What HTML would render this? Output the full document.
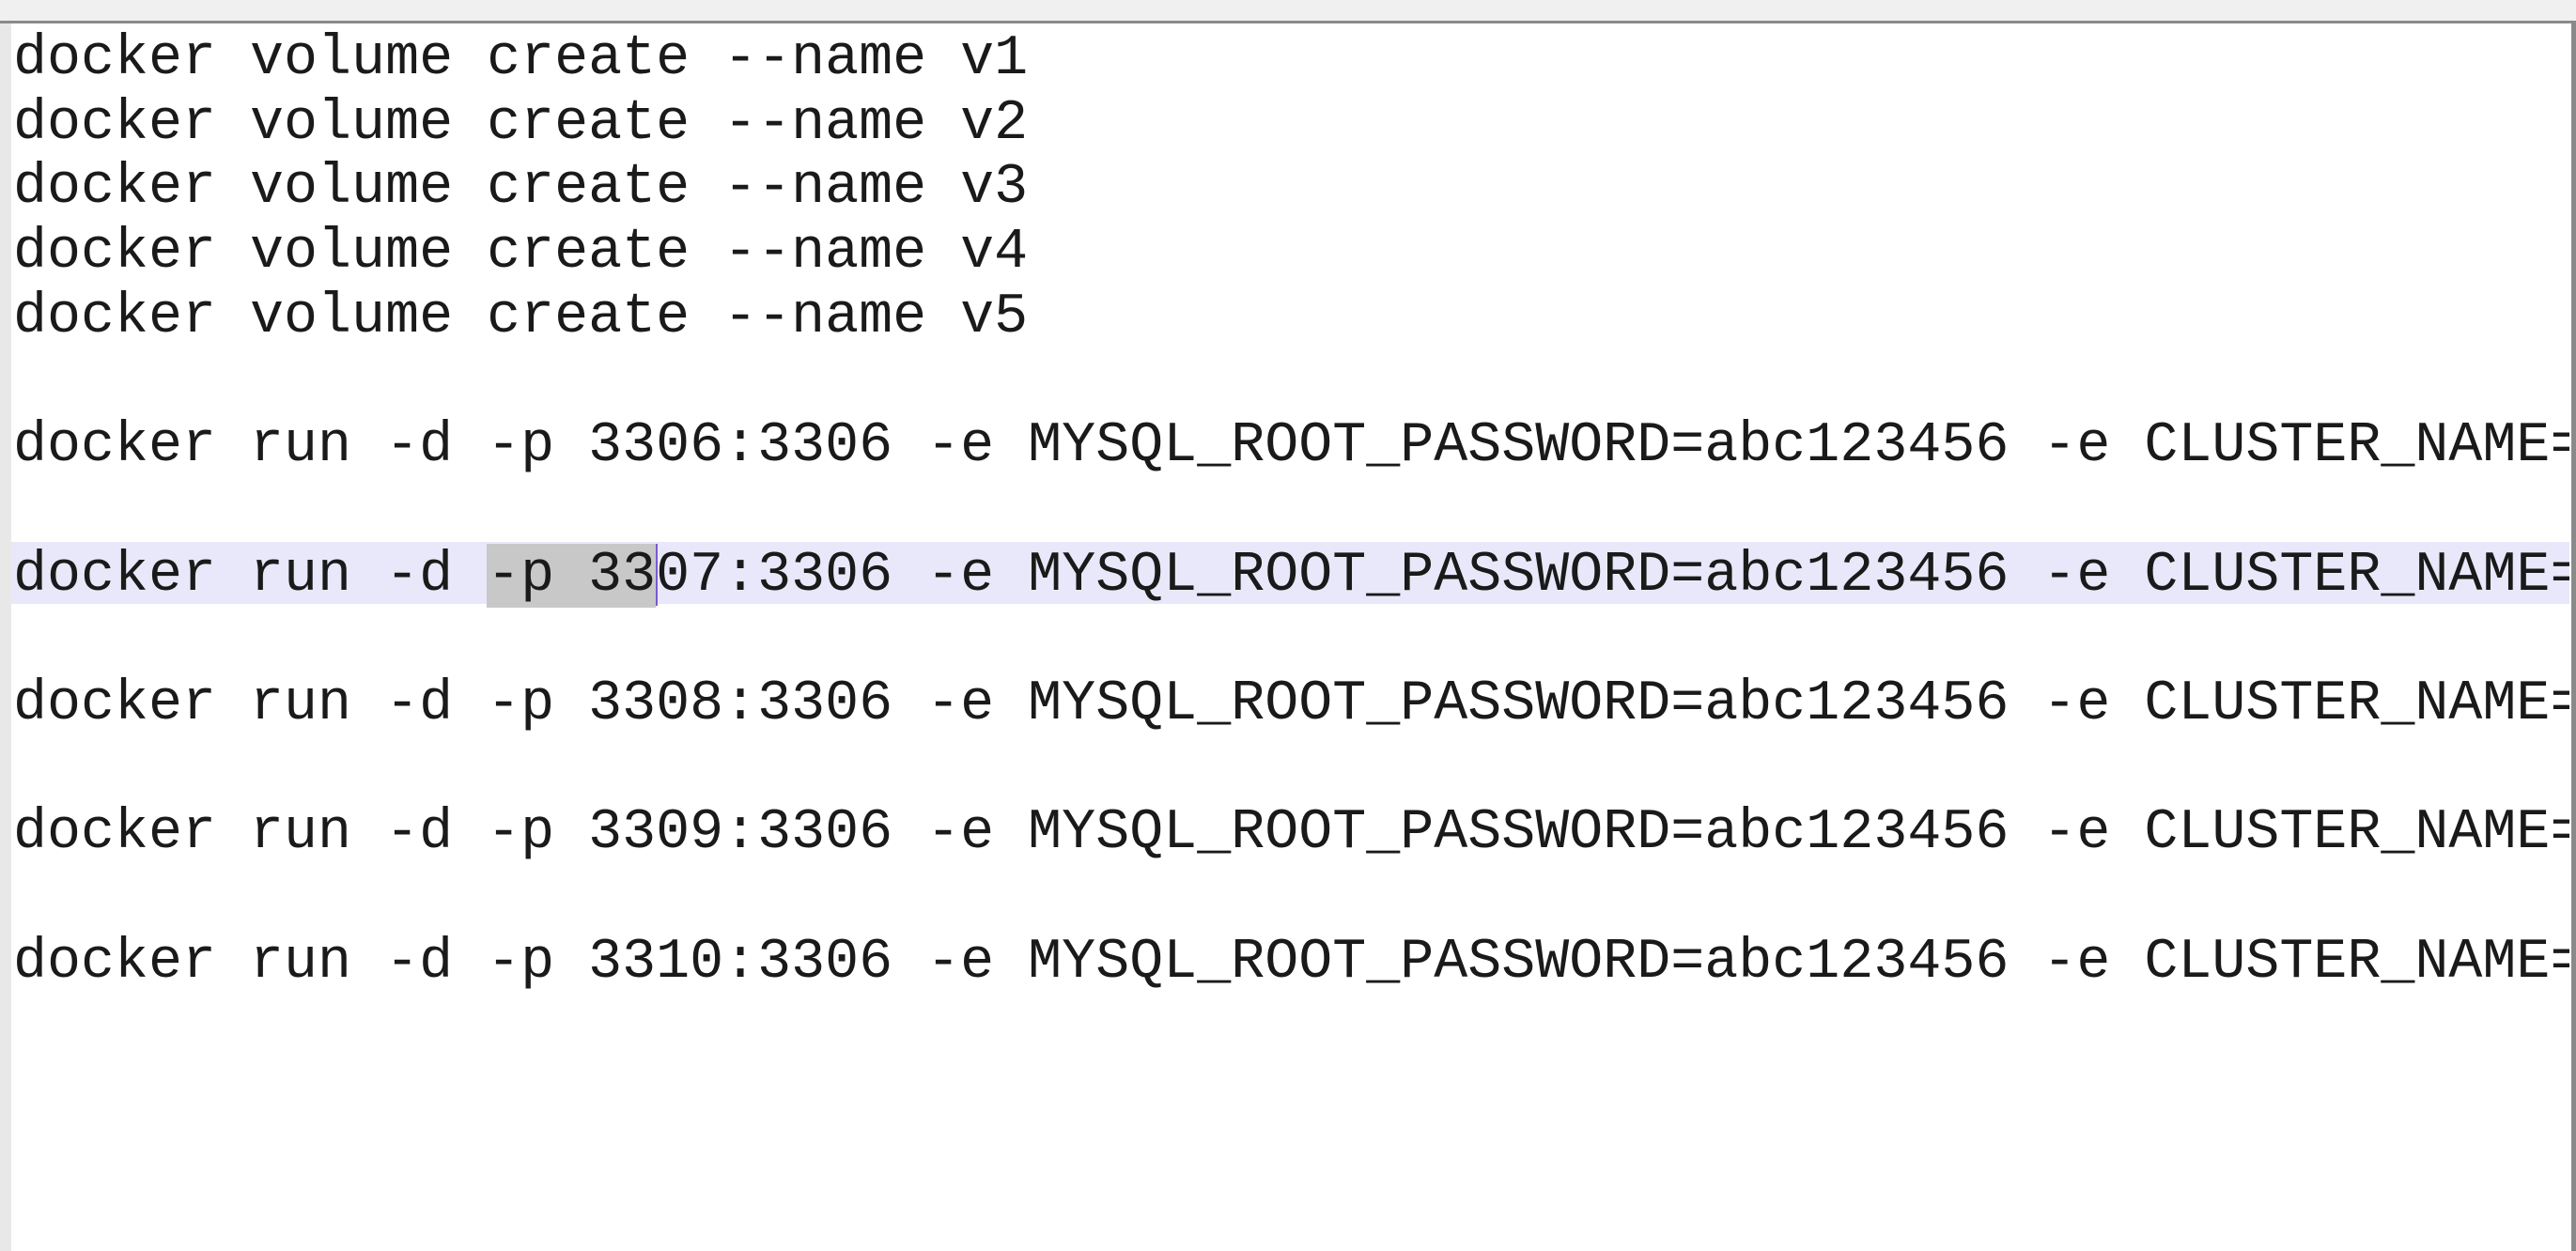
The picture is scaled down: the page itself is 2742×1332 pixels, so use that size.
<!DOCTYPE html>
<html><head><meta charset="utf-8"><style>
html,body{margin:0;padding:0;width:2742px;height:1332px;overflow:hidden;background:#fff;}
#top{position:absolute;left:0;top:0;width:2742px;height:22px;background:#f0f0f0;}
#topb{position:absolute;left:0;top:22px;width:2738px;height:3px;background:#8a8a8a;}
#right{position:absolute;left:2737px;top:22px;width:5px;height:1310px;background:#8a8a8a;}
#left{position:absolute;left:0;top:25px;width:12px;height:1307px;background:#e8e8e8;}
#ed{position:absolute;left:12px;top:29px;width:2723px;height:1303px;overflow:hidden;}
.l{position:relative;height:68.7px;line-height:68.7px;font-family:"Courier New","Nimbus Mono PS","FreeMono","Liberation Mono",monospace;font-size:60px;color:#1a1a1a;white-space:pre;padding-left:2px;}
.hl{background:#e8e8fa;}
.sel{background:#c8c8c8;}
.cur{display:inline-block;width:2px;height:66px;background:#7a5ad0;vertical-align:middle;margin-right:-2px;}
</style></head><body>
<div id="top"></div><div id="topb"></div><div id="right"></div><div id="left"></div>
<div id="ed">
<div class="l">docker volume create --name v1</div>
<div class="l">docker volume create --name v2</div>
<div class="l">docker volume create --name v3</div>
<div class="l">docker volume create --name v4</div>
<div class="l">docker volume create --name v5</div>
<div class="l"> </div>
<div class="l">docker run -d -p 3306:3306 -e MYSQL_ROOT_PASSWORD=abc123456 -e CLUSTER_NAME=PXC -e XTRABACKUP_PASSWORD=abc123456</div>
<div class="l"> </div>
<div class="l hl" style="margin-top:-2px;height:66px;line-height:72px">docker run -d <span class="sel">-p 33</span><span class="cur"></span>07:3306 -e MYSQL_ROOT_PASSWORD=abc123456 -e CLUSTER_NAME=PXC -e XTRABACKUP_PASSWORD=abc123456</div>
<div class="l" style="margin-top:4.7px"> </div>
<div class="l">docker run -d -p 3308:3306 -e MYSQL_ROOT_PASSWORD=abc123456 -e CLUSTER_NAME=PXC -e XTRABACKUP_PASSWORD=abc123456</div>
<div class="l"> </div>
<div class="l">docker run -d -p 3309:3306 -e MYSQL_ROOT_PASSWORD=abc123456 -e CLUSTER_NAME=PXC -e XTRABACKUP_PASSWORD=abc123456</div>
<div class="l"> </div>
<div class="l">docker run -d -p 3310:3306 -e MYSQL_ROOT_PASSWORD=abc123456 -e CLUSTER_NAME=PXC -e XTRABACKUP_PASSWORD=abc123456</div>
</div>
</body></html>
